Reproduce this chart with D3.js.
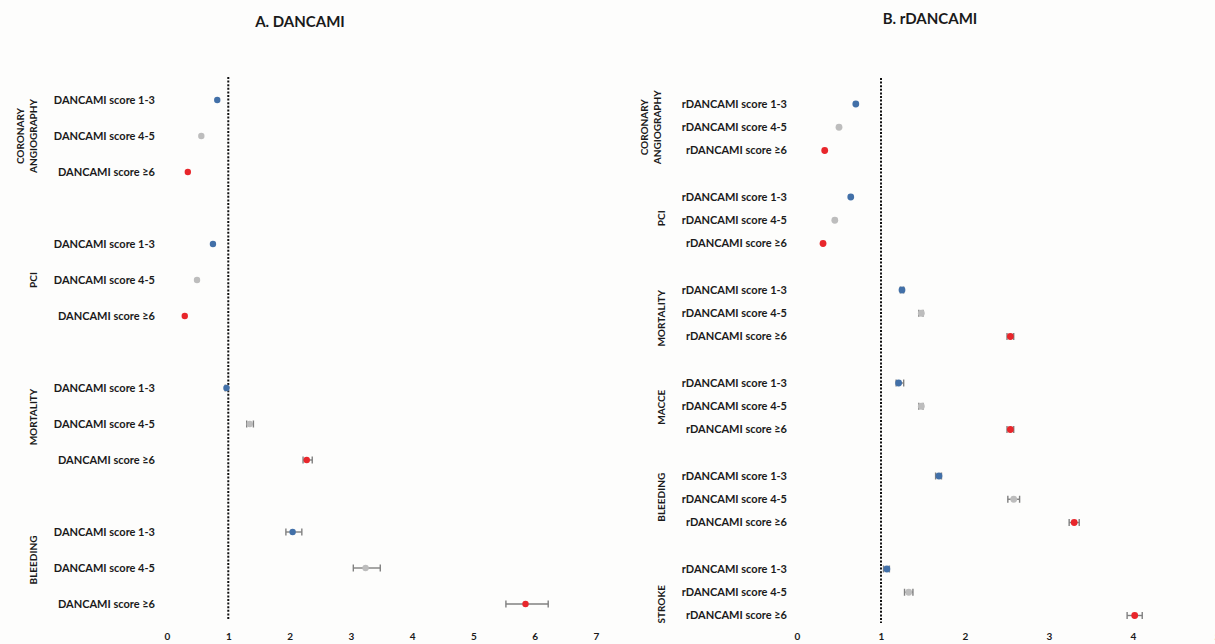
<!DOCTYPE html>
<html><head><meta charset="utf-8">
<script src="https://cdn.jsdelivr.net/npm/d3@7"></script>
<style>
html,body{margin:0;padding:0;background:#fdfdfc;}
svg{display:block;}
text{font-family:Lato,"Open Sans",sans-serif;font-weight:bold;fill:#1a1a1a;}
</style></head>
<body>
<svg id="chart" width="1215" height="644"></svg>
<script>
// ---------- DATA ----------
const groupsA = ["CORONARY ANGIOGRAPHY", "PCI", "MORTALITY", "BLEEDING"];
const scoresA = ["DANCAMI score 1-3", "DANCAMI score 4-5", "DANCAMI score \u22656"];
const valuesA = [[0.82, 0.56, 0.34], [0.75, 0.49, 0.29], [0.97, 1.35, 2.28], [2.05, 3.24, 5.85]];
const lowA    = [[0.82, 0.56, 0.34], [0.75, 0.49, 0.29], [0.95, 1.30, 2.22], [1.94, 3.04, 5.53]];
const highA   = [[0.82, 0.56, 0.34], [0.75, 0.49, 0.29], [0.99, 1.41, 2.37], [2.20, 3.48, 6.22]];
const ticksA  = [0, 1, 2, 3, 4, 5, 6, 7];

const groupsB = ["CORONARY ANGIOGRAPHY", "PCI", "MORTALITY", "MACCE", "BLEEDING", "STROKE"];
const scoresB = ["rDANCAMI score 1-3", "rDANCAMI score 4-5", "rDANCAMI score \u22656"];
const valuesB = [[0.70, 0.50, 0.33], [0.64, 0.45, 0.31], [1.25, 1.48, 2.54], [1.21, 1.48, 2.54], [1.69, 2.58, 3.30], [1.07, 1.33, 4.02]];
const lowB    = [[0.70, 0.50, 0.33], [0.64, 0.45, 0.31], [1.23, 1.45, 2.50], [1.18, 1.45, 2.50], [1.65, 2.51, 3.24], [1.03, 1.28, 3.93]];
const highB   = [[0.70, 0.50, 0.33], [0.64, 0.45, 0.31], [1.27, 1.50, 2.58], [1.27, 1.50, 2.58], [1.72, 2.65, 3.36], [1.10, 1.38, 4.11]];
const ticksB  = [0, 1, 2, 3, 4, 5];

const markerColors = ["#4270a8", "#bdbdbd", "#e8262b"];

// ---------- DRAW ----------
const svg = d3.select("#chart");

function panel(cfg) {
  const g = svg.append("g");
  const x = d3.scaleLinear().domain([0, cfg.ticks[cfg.ticks.length - 1]]).range(cfg.xRange);
  const nRows = cfg.groups.length * 4 - 2;
  const y = d3.scaleLinear().domain([0, nRows]).range(cfg.yRange);
  const rows = [];
  cfg.groups.forEach((grp, gi) => {
    cfg.scores.forEach((s, si) => {
      rows.push({label: s, idx: gi * 4 + si, v: cfg.values[gi][si], lo: cfg.low[gi][si], hi: cfg.high[gi][si], c: markerColors[si]});
    });
  });

  g.append("text").attr("x", cfg.titleX).attr("y", cfg.titleY).attr("text-anchor", "middle")
    .style("font-size", "15px").text(cfg.title);

  g.append("line").attr("x1", x(1)).attr("x2", x(1)).attr("y1", cfg.lineY[0]).attr("y2", cfg.lineY[1])
    .attr("stroke", "#111").attr("stroke-width", 2).attr("stroke-dasharray", "2,1.6");

  const ax = g.append("g").attr("transform", `translate(0,${cfg.axisY})`)
    .call(d3.axisBottom(x).tickValues(cfg.ticks).tickSize(0).tickFormat(d3.format("d")));
  ax.select(".domain").remove();
  ax.selectAll("text").style("font-size", "10px").style("font-family", "Lato, sans-serif").style("font-weight", "bold").attr("fill", "#1a1a1a");

  g.selectAll(".rl").data(rows).enter().append("text")
    .attr("x", cfg.labelX).attr("y", d => y(d.idx)).attr("dy", "0.35em").attr("text-anchor", "end")
    .style("font-size", cfg.labelSize + "px").text(d => d.label);

  cfg.groups.forEach((grp, gi) => {
    const cy = y(gi * 4 + 1) + (cfg.groupOffsets[gi] || 0);
    const words = grp.split(" ");
    if (words.length === 2) {
      const t = g.append("text").attr("transform", `translate(${cfg.groupX2},${cy}) rotate(-90)`)
        .attr("text-anchor", "middle").style("font-size", cfg.groupSize + "px");
      t.append("tspan").attr("x", 0).attr("dy", "-0.3em").text(words[0]);
      t.append("tspan").attr("x", 0).attr("dy", "1.3em").text(words[1]);
    } else {
      g.append("text").attr("transform", `translate(${cfg.groupX},${cy}) rotate(-90)`)
        .attr("text-anchor", "middle").attr("dy", "0.35em").style("font-size", cfg.groupSize + "px").text(grp);
    }
  });

  const eb = g.selectAll(".eb").data(rows.filter(d => d.hi > d.lo)).enter().append("g")
    .attr("stroke", "#808080").attr("stroke-width", 1.4);
  eb.append("line").attr("x1", d => x(d.lo)).attr("x2", d => x(d.hi)).attr("y1", d => y(d.idx)).attr("y2", d => y(d.idx));
  eb.append("line").attr("x1", d => x(d.lo)).attr("x2", d => x(d.lo)).attr("y1", d => y(d.idx) - 3.5).attr("y2", d => y(d.idx) + 3.5);
  eb.append("line").attr("x1", d => x(d.hi)).attr("x2", d => x(d.hi)).attr("y1", d => y(d.idx) - 3.5).attr("y2", d => y(d.idx) + 3.5);

  g.selectAll(".pt").data(rows).enter().append("circle")
    .attr("cx", d => x(d.v)).attr("cy", d => y(d.idx)).attr("r", cfg.r).attr("fill", d => d.c);
}

panel({
  title: "A. DANCAMI", titleX: 300, titleY: 27,
  groups: groupsA, scores: scoresA, values: valuesA, low: lowA, high: highA, ticks: ticksA,
  xRange: [167, 596], yRange: [100, 604], lineY: [77, 620], axisY: 630,
  labelX: 155, labelSize: 11, groupX: 33, groupX2: 27, groupSize: 10, groupOffsets: [0, 0, -7, -8], r: 3.2
});
panel({
  title: "B. rDANCAMI", titleX: 930, titleY: 24,
  groups: groupsB, scores: scoresB, values: valuesB, low: lowB, high: highB, ticks: ticksB,
  xRange: [797, 1217], yRange: [104, 615.5], lineY: [78, 623], axisY: 630,
  labelX: 787, labelSize: 11, groupX: 661, groupX2: 651, groupSize: 10, groupOffsets: [0, -2, 5, 1, -2, 12], r: 3.4
});
</script>
</body></html>
